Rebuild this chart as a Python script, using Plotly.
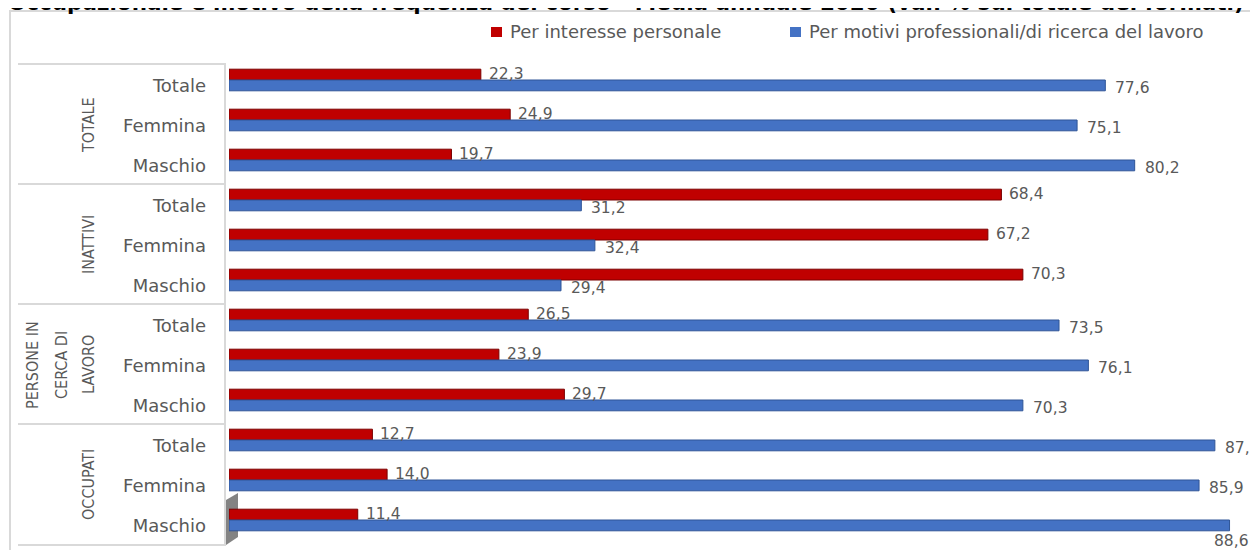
import plotly.graph_objects as go

# ---------------- data ----------------
groups = ["TOTALE", "INATTIVI", "PERSONE IN CERCA DI LAVORO", "OCCUPATI"]
group_lines = [["TOTALE"], ["INATTIVI"], ["PERSONE IN", "CERCA DI", "LAVORO"], ["OCCUPATI"]]
sexes = ["Totale", "Femmina", "Maschio"]
categories = [s for g in groups for s in sexes]
series_names = ["Per interesse personale", "Per motivi professionali/di ricerca del lavoro"]
interesse_personale = [22.3, 24.9, 19.7, 68.4, 67.2, 70.3, 26.5, 23.9, 29.7, 12.7, 14.0, 11.4]
motivi_professionali = [77.6, 75.1, 80.2, 31.2, 32.4, 29.4, 73.5, 76.1, 70.3, 87.3, 85.9, 88.6]
title_text = ("Occupazionale e motivo della frequenza del corso - Media annuale 2020 "
              "(val. % sul totale dei formati)")

# ---------------- layout geometry (page has an 8px body margin) ----------------
OFF = 8
W, H = 1250, 542
ML, MR, MT, MB = 221, 7, 52, 10
PW, PH = W - ML - MR, H - MT - MB


def pxx(page_px):
    return (page_px - OFF - ML) / PW


def pxy(page_py):
    return (H - MB - (page_py - OFF)) / PH


RED, RED_DARK = "#C00000", "#7A0000"
BLUE, BLUE_DARK = "#4472C4", "#2F5597"
GRAY_TXT = "#595959"
LINE = "#D9D9D9"
FONT = "DejaVu Sans, Verdana, sans-serif"
NARROW = "Liberation Sans Narrow, DejaVu Sans Condensed, sans-serif"

rows = list(range(len(categories)))


def fmt(v):
    return f"{v:.1f}".replace(".", ",")


fig = go.Figure()
fig.add_trace(go.Bar(
    y=rows, x=interesse_personale, orientation="h", name=series_names[0],
    marker=dict(color=RED, line=dict(color=RED_DARK, width=1)), showlegend=False,
))
fig.add_trace(go.Bar(
    y=rows, x=motivi_professionali, orientation="h", name=series_names[1],
    marker=dict(color=BLUE, line=dict(color=BLUE_DARK, width=1)), showlegend=False,
))

annotations = []
# data labels
for i, v in enumerate(interesse_personale):
    annotations.append(dict(x=v, y=i - 0.13, xref="x", yref="y", text=fmt(v),
                            showarrow=False, xanchor="left", xshift=6, yshift=1,
                            font=dict(family=FONT, size=15.5, color=GRAY_TXT)))
for i, v in enumerate(motivi_professionali):
    if v > 88:
        annotations.append(dict(x=v, y=i + 0.13, xref="x", yref="y", text=fmt(v),
                                showarrow=False, xanchor="center", xshift=2, yshift=-16,
                                font=dict(family=FONT, size=15.5, color=GRAY_TXT)))
    else:
        annotations.append(dict(x=v, y=i + 0.13, xref="x", yref="y", text=fmt(v),
                                showarrow=False, xanchor="left", xshift=8, yshift=-3,
                                font=dict(family=FONT, size=15.5, color=GRAY_TXT)))

# group labels (rotated)
for gi, lines in enumerate(group_lines):
    center_row = gi * 3 + 1
    xs = [88] if len(lines) == 1 else [32, 61, 88]
    for line, xp in zip(lines, xs):
        annotations.append(dict(x=pxx(xp), y=center_row, xref="paper", yref="y",
                                text=line, textangle=-90, showarrow=False,
                                xanchor="center", yanchor="middle", yshift=-5,
                                font=dict(family=NARROW, size=16, color=GRAY_TXT)))

# legend (manual)
annotations.append(dict(x=pxx(508), y=pxy(32), xref="paper", yref="paper",
                        text=series_names[0], showarrow=False, xanchor="left",
                        yanchor="middle", font=dict(family=FONT, size=18, color=GRAY_TXT)))
annotations.append(dict(x=pxx(807), y=pxy(32), xref="paper", yref="paper",
                        text=series_names[1], showarrow=False, xanchor="left",
                        yanchor="middle", font=dict(family=FONT, size=18, color=GRAY_TXT)))

# title (cut off at top in the reference)
annotations.append(dict(x=pxx(626), y=pxy(17), xref="paper", yref="paper",
                        text="<b>" + title_text + "</b>", showarrow=False,
                        xanchor="center", yanchor="bottom",
                        font=dict(family=FONT, size=21.5, color="#000000")))

shapes = []
# outer chart border
shapes.append(dict(type="rect", xref="paper", yref="paper",
                   x0=pxx(10), x1=pxx(1270), y0=pxy(560), y1=pxy(11),
                   line=dict(color=LINE, width=2), fillcolor="rgba(0,0,0,0)", layer="below"))
# group separators
for py in [64, 184, 304, 424, 545]:
    shapes.append(dict(type="line", xref="paper", yref="paper",
                       x0=pxx(18), x1=pxx(226), y0=pxy(py), y1=pxy(py),
                       line=dict(color=LINE, width=2)))
# vertical axis line
shapes.append(dict(type="line", xref="paper", yref="paper",
                   x0=pxx(225), x1=pxx(225), y0=pxy(64), y1=pxy(545),
                   line=dict(color=LINE, width=2)))
# 3D floor shadow
shapes.append(dict(type="path", xref="paper", yref="paper",
                   path=(f"M {pxx(226)},{pxy(545)} L {pxx(226)},{pxy(500)} "
                         f"L {pxx(238)},{pxy(493)} L {pxx(238)},{pxy(537)} Z"),
                   fillcolor="rgba(90,90,90,0.75)", line=dict(width=0), layer="below"))
# legend swatches
shapes.append(dict(type="rect", xref="paper", yref="paper",
                   x0=pxx(491), x1=pxx(502), y0=pxy(37), y1=pxy(27),
                   fillcolor=RED, line=dict(width=0)))
shapes.append(dict(type="rect", xref="paper", yref="paper",
                   x0=pxx(790), x1=pxx(801), y0=pxy(37), y1=pxy(27),
                   fillcolor=BLUE, line=dict(width=0)))

fig.update_layout(
    width=W, height=H,
    margin=dict(l=ML, r=MR, t=MT, b=MB, pad=0),
    paper_bgcolor="white", plot_bgcolor="white",
    barmode="group", bargap=0.46, bargroupgap=0,
    annotations=annotations, shapes=shapes,
    xaxis=dict(range=[0, 90.5], visible=False, showgrid=False, zeroline=False, fixedrange=True),
    yaxis=dict(range=[11.5, -0.5], tickmode="array",
               tickvals=[r + 0.13 for r in rows], ticktext=categories,
               showgrid=False, zeroline=False, showline=False, ticks="",
               ticklabelstandoff=22,
               tickfont=dict(family=FONT, size=18, color=GRAY_TXT), fixedrange=True),
    font=dict(family=FONT),
)

fig.write_html("out.html")
